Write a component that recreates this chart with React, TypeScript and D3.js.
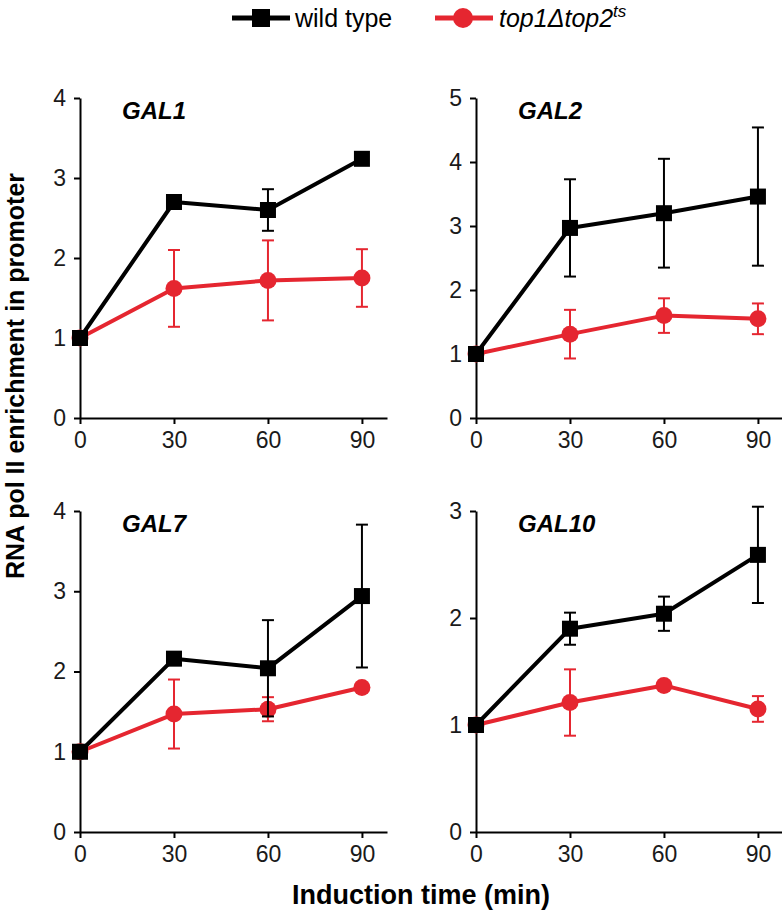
import React, { useEffect, useRef } from 'react';
import * as d3 from 'd3';

// induction time points (min)
const times = [0, 30, 60, 90];
const genes = ['GAL1', 'GAL2', 'GAL7', 'GAL10'];
const yMaxes = [4, 5, 4, 3];

// wild type means / error (+/-)
const wtMean = [
  [1, 2.70, 2.60, 3.24],
  [1, 2.97, 3.20, 3.46],
  [1, 2.16, 2.04, 2.94],
  [1, 1.90, 2.04, 2.59],
];
const wtErr = [
  [0, 0.06, 0.26, 0.02],
  [0, 0.76, 0.85, 1.08],
  [0, 0.03, 0.60, 0.89],
  [0, 0.15, 0.16, 0.45],
];

// top1Δtop2ts means / error
const mutMean = [
  [1, 1.62, 1.72, 1.75],
  [1, 1.31, 1.60, 1.55],
  [1, 1.47, 1.53, 1.80],
  [1, 1.21, 1.37, 1.15],
];
const mutErr = [
  [0, 0.48, 0.50, 0.36],
  [0, 0.38, 0.27, 0.24],
  [0, 0.43, 0.15, 0.02],
  [0, 0.31, 0.03, 0.12],
];

const RED = '#e52630';
const FONT = 'Liberation Sans, Arial, sans-serif';

export default function App() {
  const svgRef = useRef<SVGSVGElement | null>(null);

  useEffect(() => {
    const svg = d3.select(svgRef.current);
    svg.selectAll('*').remove();

    // panel layout: left edge of y axis, top (ymax) and bottom (0) pixel
    const cols = [80, 476];
    const rows = [[98, 418], [511, 832]];
    const plotW = 307;

    genes.forEach((gene, gi) => {
      const x0 = cols[gi % 2];
      const [top, bottom] = rows[Math.floor(gi / 2)];
      const x = d3.scaleLinear().domain([0, 98]).range([x0, x0 + plotW]);
      const y = d3.scaleLinear().domain([0, yMaxes[gi]]).range([bottom, top]);
      const g = svg.append('g');

      const xAxis = g.append('g')
        .attr('transform', `translate(0,${bottom})`)
        .call(d3.axisBottom(x).tickValues(times).tickSize(6).tickPadding(8).tickSizeOuter(0));
      const yAxis = g.append('g')
        .attr('transform', `translate(${x0},0)`)
        .call(d3.axisLeft(y).ticks(yMaxes[gi]).tickFormat(d3.format('d')).tickSize(6).tickPadding(8).tickSizeOuter(0));
      [xAxis, yAxis].forEach(a => {
        a.selectAll('path, line').attr('stroke', '#000').attr('stroke-width', 2);
        a.selectAll('text').attr('font-family', FONT).attr('font-size', 23).attr('fill', '#1a1a1a');
      });

      g.append('text')
        .attr('x', x0 + 42)
        .attr('y', top + 21)
        .attr('font-family', FONT)
        .attr('font-size', 24)
        .attr('font-weight', 'bold')
        .attr('font-style', 'italic')
        .text(gene);

      const series = [
        { mean: mutMean[gi], err: mutErr[gi], color: RED, shape: 'circle' },
        { mean: wtMean[gi], err: wtErr[gi], color: '#000', shape: 'square' },
      ];

      series.forEach(s => {
        const pts = times.map((t, i) => ({ t, v: s.mean[i], e: s.err[i] }));
        const sg = g.append('g');
        const line = d3.line<any>().x(d => x(d.t)).y(d => y(d.v));
        sg.append('path')
          .datum(pts)
          .attr('d', line)
          .attr('fill', 'none')
          .attr('stroke', s.color)
          .attr('stroke-width', 4)
          .attr('stroke-linejoin', 'round');

        const eb = sg.selectAll('g.err').data(pts.filter(d => d.e > 0)).join('g');
        eb.append('line')
          .attr('x1', d => x(d.t)).attr('x2', d => x(d.t))
          .attr('y1', d => y(d.v - d.e)).attr('y2', d => y(d.v + d.e))
          .attr('stroke', s.color).attr('stroke-width', 2);
        [1, -1].forEach(sign => {
          eb.append('line')
            .attr('x1', d => x(d.t) - 6).attr('x2', d => x(d.t) + 6)
            .attr('y1', d => y(d.v + sign * d.e)).attr('y2', d => y(d.v + sign * d.e))
            .attr('stroke', s.color).attr('stroke-width', 2);
        });

        if (s.shape === 'circle') {
          sg.selectAll('circle').data(pts).join('circle')
            .attr('cx', d => x(d.t)).attr('cy', d => y(d.v)).attr('r', 8.5)
            .attr('fill', s.color);
        } else {
          sg.selectAll('rect').data(pts).join('rect')
            .attr('x', d => x(d.t) - 8).attr('y', d => y(d.v) - 8)
            .attr('width', 16).attr('height', 16)
            .attr('fill', s.color);
        }
      });
    });

    // axis titles
    svg.append('text')
      .attr('transform', 'translate(24,376) rotate(-90)')
      .attr('text-anchor', 'middle')
      .attr('font-family', FONT)
      .attr('font-size', 25)
      .attr('font-weight', 'bold')
      .text('RNA pol II enrichment in promoter');

    svg.append('text')
      .attr('x', 421)
      .attr('y', 904)
      .attr('text-anchor', 'middle')
      .attr('font-family', FONT)
      .attr('font-size', 27)
      .attr('font-weight', 'bold')
      .text('Induction time (min)');

    // legend
    const leg = svg.append('g').attr('font-family', FONT).attr('font-size', 25);
    leg.append('line').attr('x1', 232).attr('x2', 290).attr('y1', 18).attr('y2', 18)
      .attr('stroke', '#000').attr('stroke-width', 5);
    leg.append('rect').attr('x', 252).attr('y', 9).attr('width', 18).attr('height', 18).attr('fill', '#000');
    leg.append('text').attr('x', 295).attr('y', 27).text('wild type');

    leg.append('line').attr('x1', 435).attr('x2', 493).attr('y1', 18).attr('y2', 18)
      .attr('stroke', RED).attr('stroke-width', 5);
    leg.append('circle').attr('cx', 463).attr('cy', 18).attr('r', 10).attr('fill', RED);
    const t = leg.append('text').attr('x', 499).attr('y', 27).attr('font-style', 'italic');
    t.append('tspan').text('top1Δtop2');
    t.append('tspan').attr('dy', -10).attr('font-size', 17).text('ts');
  }, []);

  return (
    <svg
      ref={svgRef}
      width={782}
      height={914}
      style={{ position: 'absolute', left: 0, top: 0, background: '#fff' }}
    />
  );
}
